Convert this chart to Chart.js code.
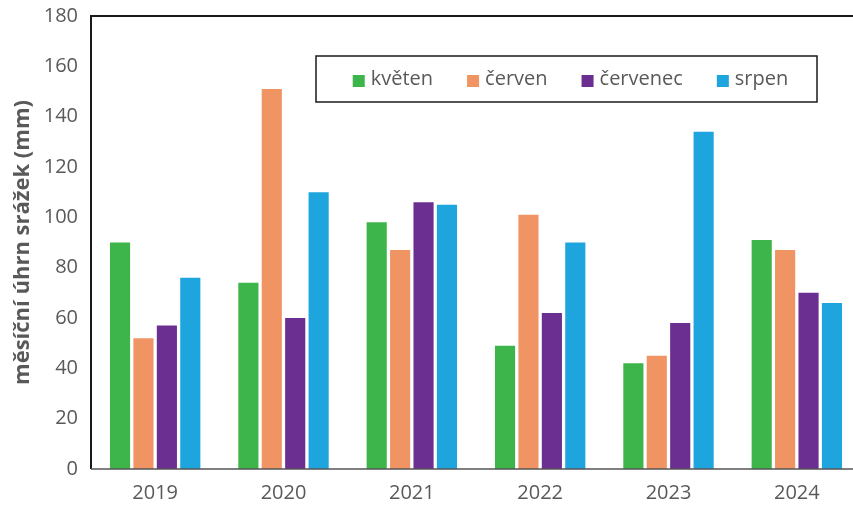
<!DOCTYPE html>
<html>
<head>
<meta charset="utf-8">
<script src="https://cdn.jsdelivr.net/npm/chart.js@4"></script>
<style>
  html, body { margin: 0; padding: 0; background: #fff; overflow: hidden; }
  #wrap { width: 870px; height: 506px; position: relative; }
</style>
</head>
<body>
<div id="wrap"><canvas id="c"></canvas></div>
<script>
// Monthly precipitation totals (mm), May–August, 2019–2024
const years = ['2019', '2020', '2021', '2022', '2023', '2024'];
const kveten = [90, 74, 98, 49, 42, 91];
const cerven = [52, 151, 87, 101, 45, 87];
const cervenec = [57, 60, 106, 62, 58, 70];
const srpen = [76, 110, 105, 90, 134, 66];
const seriesNames = ['květen', 'červen', 'červenec', 'srpen'];
const seriesColors = ['#3db54a', '#f09464', '#6b2f91', '#1fa5de'];
const yTitle = 'měsíční úhrn srážek (mm)';
const yMin = 0, yMax = 180, yStep = 20;

const FONT = '"Open Sans", "Noto Sans", sans-serif';
const TEXT = '#595959';

// Frame lines (black top/left, grey baseline) and the rotated axis title
const framePlugin = {
  id: 'frame',
  afterDraw(chart, args, opts) {
    const { ctx, chartArea: a } = chart;
    ctx.save();
    ctx.strokeStyle = '#1a1a1a';
    ctx.lineWidth = 2;
    ctx.beginPath();
    ctx.moveTo(a.left, a.bottom);
    ctx.lineTo(a.left, a.top);
    ctx.lineTo(a.right + 10, a.top);
    ctx.stroke();
    ctx.strokeStyle = '#555';
    ctx.lineWidth = 1.5;
    ctx.beginPath();
    ctx.moveTo(a.left, a.bottom);
    ctx.lineTo(a.right + 10, a.bottom);
    ctx.stroke();

    ctx.translate(opts.titleX, (a.top + a.bottom) / 2);
    ctx.rotate(-Math.PI / 2);
    ctx.font = opts.titleFont;
    ctx.fillStyle = TEXT;
    ctx.textAlign = 'center';
    ctx.textBaseline = 'middle';
    ctx.fillText(yTitle, 0, 0);
    ctx.restore();
  }
};

// Boxed legend inside the plot area
const boxLegend = {
  id: 'boxLegend',
  afterDraw(chart, args, opts) {
    const { ctx, chartArea: a } = chart;
    const x0 = a.left + opts.offsetX, y0 = a.top + opts.offsetY;
    const w = opts.width, h = opts.height;
    ctx.save();
    ctx.fillStyle = '#fff';
    ctx.fillRect(x0, y0, w, h);
    ctx.strokeStyle = '#1a1a1a';
    ctx.lineWidth = 1.5;
    ctx.strokeRect(x0, y0, w, h);
    ctx.font = opts.font;
    ctx.textBaseline = 'middle';
    const box = 12, gapIn = 6, gapOut = 34;
    const items = chart.data.datasets.map(d => ({ label: d.label, color: d.backgroundColor, tw: ctx.measureText(d.label).width }));
    let total = 0;
    items.forEach((it, i) => { total += box + gapIn + it.tw + (i < items.length - 1 ? gapOut : 0); });
    let x = x0 + (w - total) / 2 + 4;
    const cy = y0 + h / 2;
    items.forEach(it => {
      ctx.fillStyle = it.color;
      ctx.fillRect(x, cy - box / 2 + 2, box, box);
      x += box + gapIn;
      ctx.fillStyle = TEXT;
      ctx.fillText(it.label, x, cy);
      x += it.tw + gapOut;
    });
    ctx.restore();
  }
};

const datasets = [kveten, cerven, cervenec, srpen].map((vals, i) => ({
  label: seriesNames[i],
  data: vals,
  backgroundColor: seriesColors[i],
  borderWidth: 0,
  categoryPercentage: 0.73,
  barPercentage: 0.86
}));

new Chart(document.getElementById('c'), {
  type: 'bar',
  data: { labels: years, datasets },
  options: {
    responsive: true,
    maintainAspectRatio: false,
    animation: false,
    layout: { padding: { top: 16, left: 0, right: 9, bottom: 0 } },
    plugins: {
      legend: { display: false },
      tooltip: { enabled: false },
      frame: { titleX: 23, titleFont: 'bold 22px ' + FONT },
      boxLegend: { offsetX: 225, offsetY: 40, width: 501, height: 46, font: '20px ' + FONT }
    },
    scales: {
      x: {
        grid: { display: false, drawTicks: false },
        border: { display: false },
        ticks: { color: TEXT, font: { family: FONT, size: 20 }, padding: 12 },
        afterFit(s) { s.height = 37; s.paddingLeft = 0; s.paddingRight = 0; }
      },
      y: {
        min: yMin, max: yMax,
        grid: { display: false, drawTicks: false },
        border: { display: false },
        ticks: { stepSize: yStep, color: TEXT, font: { family: FONT, size: 20 }, padding: 13 },
        afterFit(s) { s.width = 91; s.paddingTop = 0; s.paddingBottom = 0; }
      }
    }
  },
  plugins: [framePlugin, boxLegend]
});
</script>
</body>
</html>
